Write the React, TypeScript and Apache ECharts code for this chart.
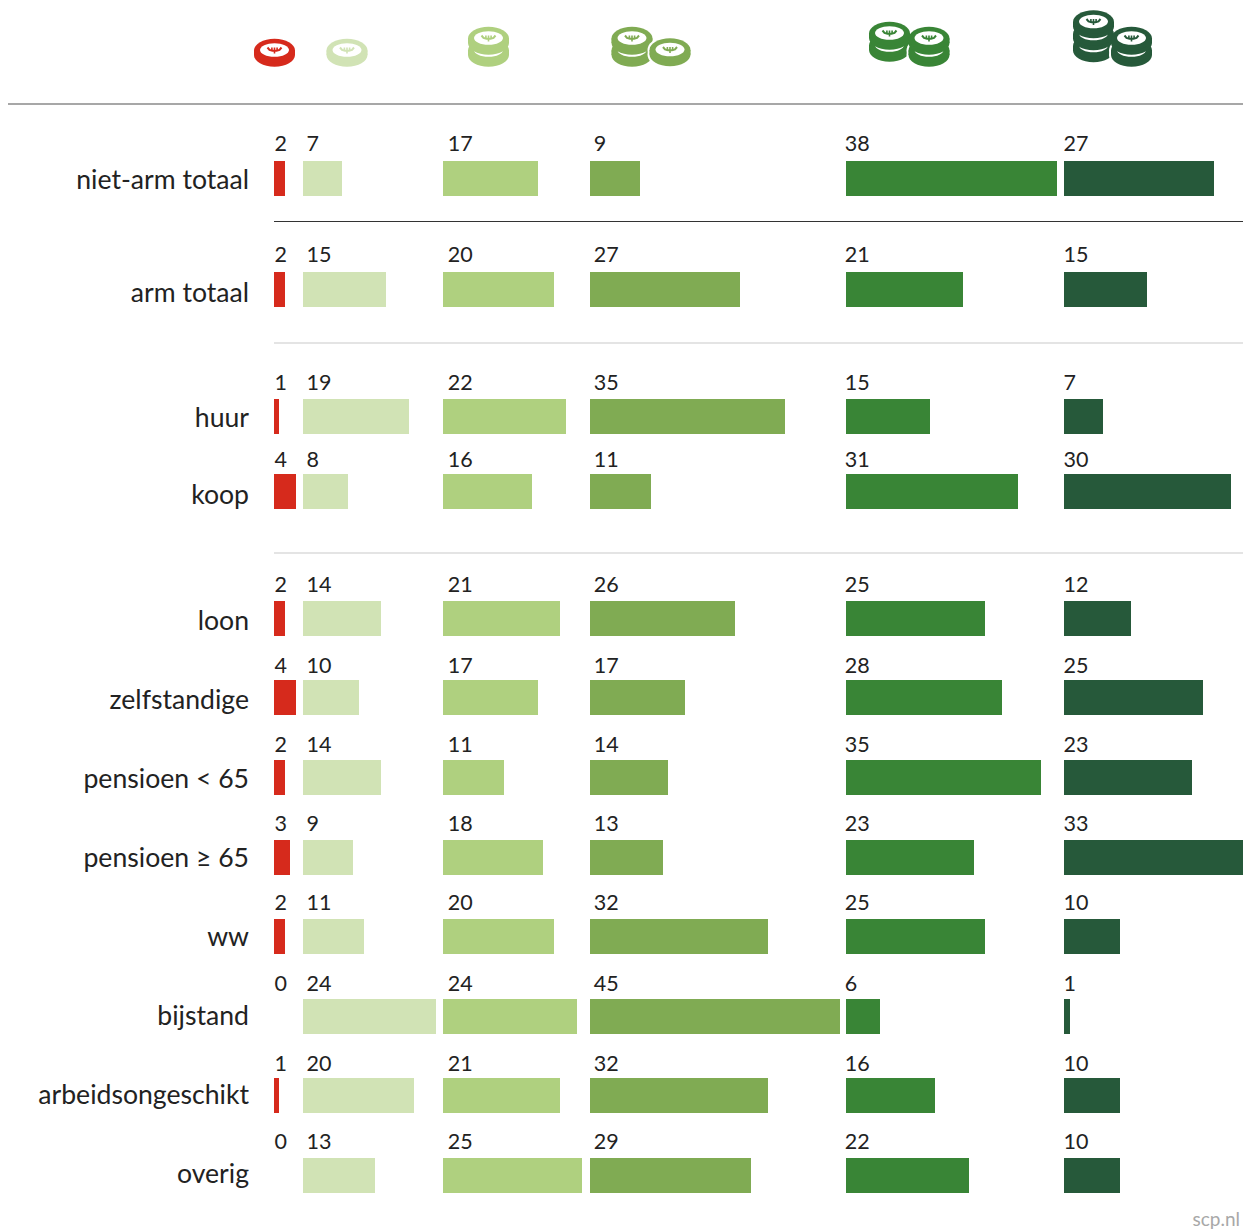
import React, { useEffect, useRef } from "react";
import * as echarts from "echarts";

const rowNames = ["niet-arm totaal", "arm totaal", "huur", "koop", "loon", "zelfstandige", "pensioen < 65", "pensioen ≥ 65", "ww", "bijstand", "arbeidsongeschikt", "overig"];
const redCoin = [2, 2, 1, 4, 2, 4, 2, 3, 2, 0, 1, 0];
const paleCoin = [7, 15, 19, 8, 14, 10, 14, 9, 11, 24, 20, 13];
const lightStack = [17, 20, 22, 16, 21, 17, 11, 18, 20, 24, 21, 25];
const midStack = [9, 27, 35, 11, 26, 17, 14, 13, 32, 45, 32, 29];
const darkStack = [38, 21, 15, 31, 25, 28, 35, 23, 25, 6, 16, 22];
const deepStack = [27, 15, 7, 30, 12, 25, 23, 33, 10, 1, 10, 10];
const columns = [redCoin, paleCoin, lightStack, midStack, darkStack, deepStack];
const colors = ["#d62a1c", "#d1e3b5", "#afd07f", "#80ab53", "#398536", "#26593a"];

const W = 1243, H = 1232;
const FONT = "Lato, 'Open Sans', sans-serif";
const PX_PER_UNIT = 5.55;
const COLUMN_WIDTH = 179;
const colStart = [273.6, 303.2, 443.4, 590.4, 846.4, 1064];
const labelOffset = [1, 3.4, 4.4, 3.4, -1.6, -0.4];
const barTop = [161, 272, 399, 474, 601, 680, 760, 840, 919, 999, 1078, 1158];
const barH = 35;
const labelY = [142.5, 253.5, 381.5, 458.5, 583.5, 664.5, 743.5, 822.5, 901.5, 982.5, 1062.5, 1140.5];
const nameY = [179, 292, 417, 494, 620, 699, 778, 857, 936, 1015, 1094, 1173];

function coin(cx: number, cy: number, color: string, out: any[], halo = false) {
  if (halo) {
    out.push({ type: "ellipse", shape: { cx, cy, rx: 22.5, ry: 14 }, style: { fill: "#fff" }, silent: true });
    out.push({ type: "ellipse", shape: { cx, cy: cy + 4.5, rx: 22.5, ry: 14 }, style: { fill: "#fff" }, silent: true });
  }
  out.push({ type: "ellipse", shape: { cx, cy: cy + 4.5, rx: 20.5, ry: 11.7 }, style: { fill: color }, silent: true });
  out.push({ type: "rect", shape: { x: cx - 20.5, y: cy, width: 41, height: 4.5 }, style: { fill: color }, silent: true });
  out.push({ type: "ellipse", shape: { cx, cy, rx: 20.5, ry: 11.7 }, style: { fill: color }, silent: true });
  out.push({ type: "ellipse", shape: { cx, cy: cy - 0.5, rx: 14.5, ry: 6.8 }, style: { fill: "#fff" }, silent: true });
  out.push({ type: "polyline", shape: { points: [[cx - 7, cy - 3], [cx - 5, cy - 0.6], [cx - 2, cy + 0.3], [cx + 2, cy + 0.3], [cx + 5, cy - 0.6], [cx + 7, cy - 3]] }, style: { stroke: color, lineWidth: 2, fill: "none" }, silent: true });
  out.push({ type: "line", shape: { x1: cx - 2.6, y1: cy - 3, x2: cx - 2.6, y2: cy + 0.5 }, style: { stroke: color, lineWidth: 1.6 }, silent: true });
  out.push({ type: "line", shape: { x1: cx + 2.6, y1: cy - 3, x2: cx + 2.6, y2: cy + 0.5 }, style: { stroke: color, lineWidth: 1.6 }, silent: true });
  out.push({ type: "line", shape: { x1: cx, y1: cy - 3, x2: cx, y2: cy + 3 }, style: { stroke: color, lineWidth: 1.6 }, silent: true });
}

function stack(cx: number, tops: number[], color: string, out: any[], halo = false) {
  tops.forEach((cy, i) => {
    if (i > 0) {
      out.push({ type: "ellipse", shape: { cx, cy: cy + 6, rx: 17, ry: 11.4 }, style: { fill: "#fff" }, silent: true });
    }
    coin(cx, cy, color, out, halo && i === 0);
  });
}

function icons() {
  const out: any[] = [];
  stack(274.5, [50.5], colors[0], out);
  stack(347, [50.5], colors[1], out);
  stack(488.5, [50.5, 38.5], colors[2], out);
  stack(632, [50.5, 38.5], colors[3], out);
  stack(670, [50], colors[3], out, true);
  stack(889.5, [45.5, 33.5], colors[4], out);
  stack(929, [50.5, 38.5], colors[4], out, true);
  stack(1093.5, [46, 34, 22], colors[5], out);
  stack(1131.5, [50.5, 38.5], colors[5], out, true);
  return out;
}

const rules = [
  { x1: 8, y: 104, color: "#8a8a8a", w: 1.6 },
  { x1: 274, y: 221.5, color: "#333333", w: 1 },
  { x1: 274, y: 343, color: "#c9c9c9", w: 1.2 },
  { x1: 274, y: 553, color: "#c9c9c9", w: 1.2 },
];

export default function App() {
  const ref = useRef<HTMLDivElement>(null);
  useEffect(() => {
    const chart = echarts.init(ref.current!, undefined, { renderer: "svg" });
    const option: any = {
      animation: false,
      backgroundColor: "#ffffff",
      grid: columns.map((_, c) => ({ left: colStart[c], top: 0, width: COLUMN_WIDTH, height: H })),
      xAxis: columns.map((_, c) => ({ type: "value", gridIndex: c, min: 0, max: COLUMN_WIDTH / PX_PER_UNIT, show: false })),
      yAxis: columns.map((_, c) => ({ type: "value", gridIndex: c, min: 0, max: H, inverse: true, show: false })),
      series: [
        ...columns.map((vals, c) => ({
          type: "custom",
          xAxisIndex: c,
          yAxisIndex: c,
          clip: false,
          silent: true,
          data: vals.map((v, r) => [v, r]),
          renderItem: (_p: any, api: any) => {
            const v = api.value(0);
            const r = api.value(1);
            const a = api.coord([0, barTop[r]]);
            const b = api.coord([v, barTop[r] + barH]);
            const x0 = Math.round(a[0]);
            const x1 = Math.round(b[0]);
            const children: any[] = [];
            if (v > 0) {
              children.push({ type: "rect", shape: { x: x0, y: a[1], width: x1 - x0, height: b[1] - a[1] }, style: { fill: colors[c] } });
            }
            children.push({
              type: "text",
              style: { text: String(v), x: a[0] + labelOffset[c], y: labelY[r], fill: "#222222", font: `21.5px ${FONT}`, align: "left", verticalAlign: "middle" },
            });
            return { type: "group", children };
          },
        })),
        {
          type: "custom",
          xAxisIndex: 0,
          yAxisIndex: 0,
          clip: false,
          silent: true,
          data: rowNames.map((_, r) => [0, r]),
          renderItem: (_p: any, api: any) => {
            const r = api.value(1);
            return {
              type: "text",
              style: { text: rowNames[r], x: 249, y: nameY[r], fill: "#222222", font: `26.6px ${FONT}`, align: "right", verticalAlign: "middle" },
            };
          },
        },
      ],
      graphic: {
        elements: [
          ...rules.map((l) => ({ type: "line", shape: { x1: l.x1, y1: l.y, x2: W, y2: l.y }, style: { stroke: l.color, lineWidth: l.w }, silent: true })),
          ...icons(),
          { type: "text", x: 1240, y: 1218, style: { text: "scp.nl", fill: "#a8a8a8", font: `19px ${FONT}`, align: "right", verticalAlign: "middle" }, silent: true },
        ],
      },
    };
    chart.setOption(option);
    return () => chart.dispose();
  }, []);
  return <div ref={ref} style={{ position: "fixed", left: 0, top: 0, width: W, height: H }} />;
}
